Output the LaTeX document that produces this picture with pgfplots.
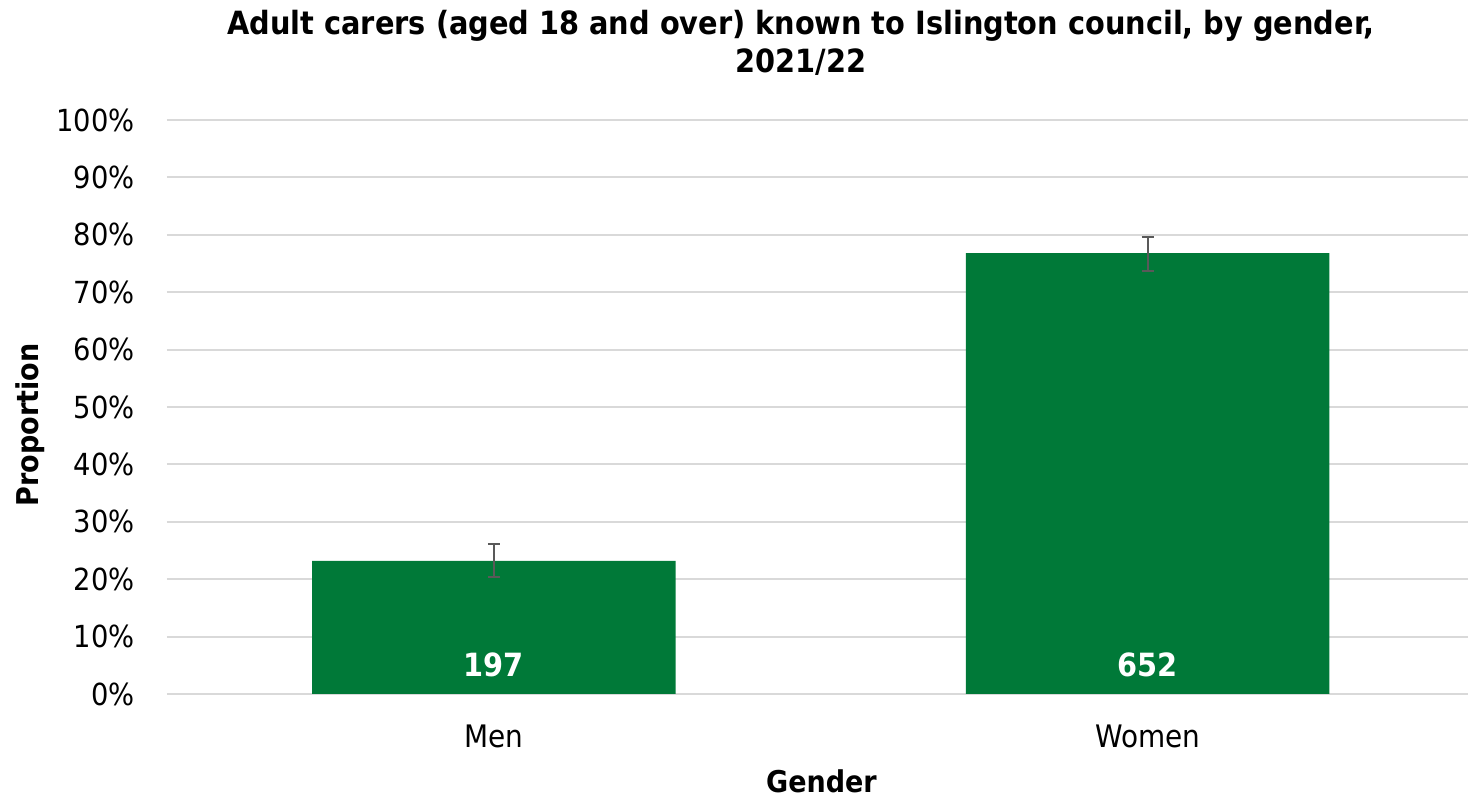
\documentclass[border=0pt]{standalone}
\usepackage{pgfplots}
\pgfplotsset{compat=1.18}
\usepackage{fontspec}
\setmainfont{DejaVu Sans Condensed}
\definecolor{bargreen}{RGB}{0,121,56}
\definecolor{gridgray}{RGB}{217,217,217}
\definecolor{errgray}{RGB}{89,89,89}
\begin{document}
\begin{tikzpicture}
\begin{axis}[
  name=ax,
  scale only axis,
  width=650.5pt, height=287pt,
  xmin=-0.50, xmax=1.49,
  ymin=0, ymax=100,
  axis line style={draw=none},
  major tick length=0pt,
  xtick={0,1},
  xticklabels={Men,Women},
  xticklabel style={font=\fontsize{15.5}{18}\selectfont, anchor=north, inner sep=0pt, yshift=-15.5pt},
  ytick={0,10,...,100},
  yticklabel={\pgfmathparse{int(\tick)}\pgfmathresult\%},
  yticklabel style={font=\fontsize{15.2}{18}\selectfont, anchor=east, inner sep=0pt, xshift=-16pt},
  ymajorgrids,
  grid style={gridgray, line width=1pt},
  ybar, bar width=0.556,
]
% proportion of carers, error bars from the confidence interval
\addplot[fill=bargreen, draw=none,
  error bars/.cd, y dir=both, y explicit,
  error bar style={errgray, line width=1pt},
  error mark options={rotate=90, errgray, mark size=3pt, line width=1pt}]
  coordinates {
    (0,23.2) += (0,2.9) -= (0,2.8)
    (1,76.8) += (0,2.8) -= (0,3.1)
  };
% counts, shown at the base of each bar
\addplot[draw=none, fill=none, forget plot,
  nodes near coords, point meta=explicit symbolic,
  every node near coord/.style={anchor=center, inner sep=0pt, text=white,
    font=\fontsize{16}{18}\bfseries\selectfont}]
  coordinates {
    (0,5.05) [197]
    (1,5.05) [652]
  };
\end{axis}
\pgfresetboundingbox
\path[use as bounding box] ([xshift=-83.5pt,yshift=-51.5pt]ax.south west) rectangle ([yshift=60pt]ax.north east);
\node[anchor=base, inner sep=0pt, font=\fontsize{16}{19}\bfseries\selectfont]
  at ([xshift=317pt,yshift=42.5pt]ax.north west) {Adult carers (aged 18 and over) known to Islington council, by gender,};
\node[anchor=base, inner sep=0pt, font=\fontsize{16}{19}\bfseries\selectfont]
  at ([xshift=317pt,yshift=23.5pt]ax.north west) {2021/22};
\node[anchor=north, inner sep=0pt, font=\fontsize{15}{18}\bfseries\selectfont]
  at ([xshift=2pt,yshift=-37.5pt]ax.south) {Gender};
\node[rotate=90, anchor=center, inner sep=0pt, font=\fontsize{15}{18}\bfseries\selectfont]
  at ([xshift=-68.5pt,yshift=-9pt]ax.west) {Proportion};
\end{tikzpicture}
\end{document}
